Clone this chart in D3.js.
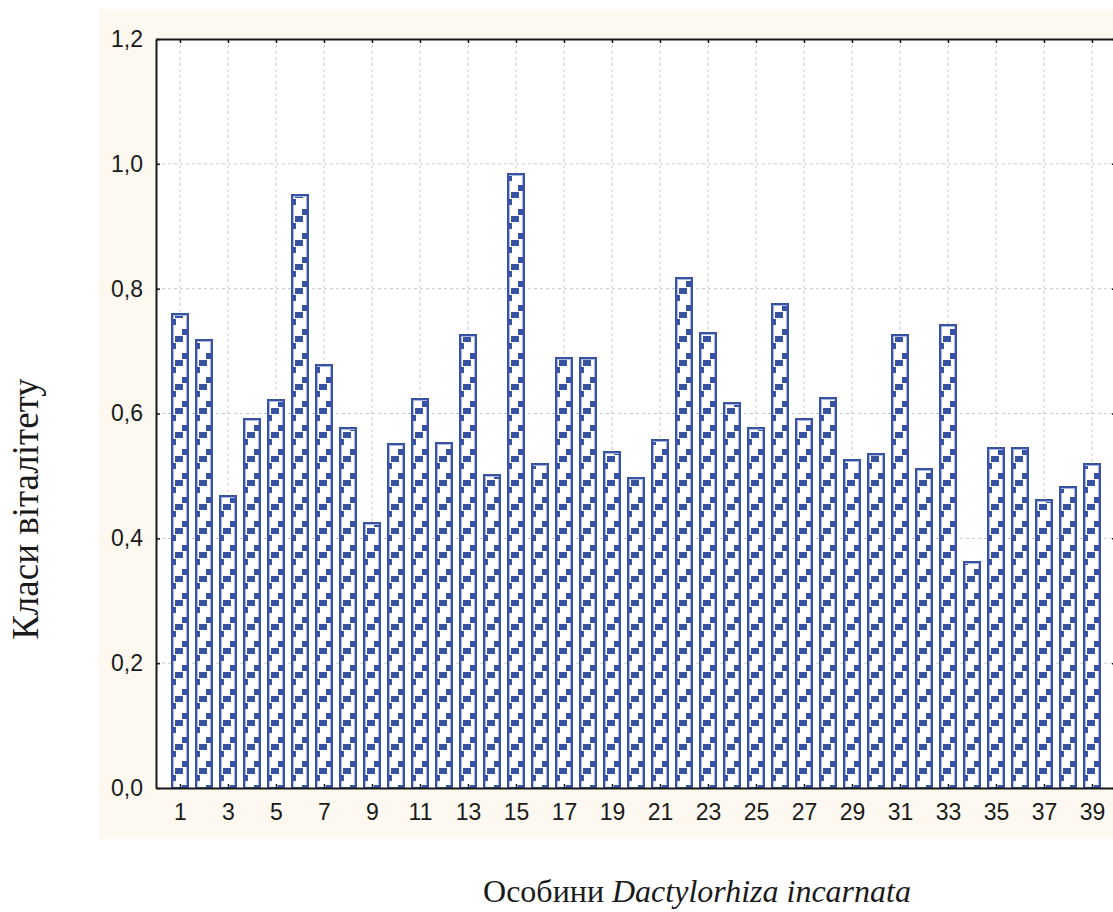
<!DOCTYPE html>
<html>
<head>
<meta charset="utf-8">
<script src="https://cdn.jsdelivr.net/npm/d3@7"></script>
<style>
  body { margin: 0; background: #ffffff; }
  svg { display: block; }
</style>
</head>
<body>
<div id="chart"></div>
<script>
// individuals 1..39 and their vitality index
const individuals = d3.range(1, 40);
const vitality = [
  0.761, 0.720, 0.470, 0.592, 0.624, 0.951, 0.680, 0.578, 0.426, 0.553,
  0.625, 0.555, 0.728, 0.503, 0.985, 0.521, 0.691, 0.691, 0.540, 0.499,
  0.559, 0.818, 0.730, 0.619, 0.578, 0.777, 0.592, 0.627, 0.527, 0.536,
  0.727, 0.512, 0.744, 0.363, 0.546, 0.546, 0.463, 0.484, 0.521
];
const yTicks = [0, 0.2, 0.4, 0.6, 0.8, 1.0, 1.2];
const xTicks = d3.range(1, 40, 2);

const W = 1113, H = 912;
const plotL = 156, plotR = 1116, plotT = 39, plotB = 788;
const blue = '#3953a4', lightBlue = '#a9b6df';

const svg = d3.select('#chart').append('svg')
  .attr('width', W)
  .attr('height', H);

// cream panel behind the plot
svg.append('rect')
  .attr('x', 99).attr('y', 9)
  .attr('width', W - 99).attr('height', 830)
  .attr('fill', '#fdf9f1');

const x = d3.scaleLinear().domain([0, 40]).range([plotL, plotR]);
const y = d3.scaleLinear().domain([0, 1.2]).range([plotB, plotT]);

const step = x(2) - x(1);
const bw = 18;

svg.append('rect')
  .attr('x', plotL).attr('y', plotT)
  .attr('width', plotR - plotL).attr('height', plotB - plotT)
  .attr('fill', '#fff');

// hatch pattern: one tile per bar slot so every bar gets the same staircase
const defs = svg.append('defs');
const pat = defs.append('pattern')
  .attr('id', 'hatch')
  .attr('patternUnits', 'userSpaceOnUse')
  .attr('x', x(1) - bw / 2)
  .attr('y', 0)
  .attr('width', step)
  .attr('height', 24)
  .attr('shape-rendering', 'crispEdges');
pat.append('rect').attr('x', 4).attr('y', 0).attr('width', 8).attr('height', 6).attr('fill', blue);
pat.append('rect').attr('x', 0).attr('y', 7).attr('width', 5).attr('height', 6).attr('fill', blue);
pat.append('rect').attr('x', 11).attr('y', 17).attr('width', 7).attr('height', 6).attr('fill', blue);

// grid
const grid = svg.append('g').attr('stroke', '#c8c8c8').attr('stroke-dasharray', '3,3').attr('stroke-width', 1);
grid.selectAll('line.v').data(xTicks).join('line')
  .attr('x1', d => x(d)).attr('x2', d => x(d))
  .attr('y1', plotT).attr('y2', plotB);
grid.selectAll('line.h').data(yTicks.slice(1, -1)).join('line')
  .attr('x1', plotL).attr('x2', plotR)
  .attr('y1', d => y(d)).attr('y2', d => y(d));

// bars
const bars = svg.append('g').attr('shape-rendering', 'crispEdges')
  .selectAll('g').data(vitality).join('g');
bars.append('rect')
  .attr('x', (d, i) => x(individuals[i]) - bw / 2)
  .attr('y', d => y(d))
  .attr('width', bw)
  .attr('height', d => y(0) - y(d))
  .attr('fill', '#fff');
bars.append('rect')
  .attr('x', (d, i) => x(individuals[i]) - bw / 2 + 2.5)
  .attr('y', d => y(d) + 2.5)
  .attr('width', bw - 5)
  .attr('height', d => y(0) - y(d) - 2.5)
  .attr('fill', 'none')
  .attr('stroke', lightBlue)
  .attr('stroke-width', 1);
bars.append('rect')
  .attr('x', (d, i) => x(individuals[i]) - bw / 2)
  .attr('y', d => y(d) + 3)
  .attr('width', bw)
  .attr('height', d => y(0) - y(d) - 3)
  .attr('fill', 'url(#hatch)');
bars.append('rect')
  .attr('x', (d, i) => x(individuals[i]) - bw / 2 + 1)
  .attr('y', d => y(d) + 1)
  .attr('width', bw - 2)
  .attr('height', d => y(0) - y(d) - 1)
  .attr('fill', 'none')
  .attr('stroke', blue)
  .attr('stroke-width', 2);

// axes
const fmt = d => d.toFixed(1).replace('.', ',');
const font = '"Liberation Sans", Arial, sans-serif';

const yAxis = svg.append('g')
  .attr('transform', `translate(${plotL},0)`)
  .call(d3.axisLeft(y).tickValues(yTicks).tickFormat(fmt).tickSizeInner(-4).tickSizeOuter(0).tickPadding(13));
const yAxisR = svg.append('g')
  .attr('transform', `translate(${plotR},0)`)
  .call(d3.axisRight(y).tickValues(yTicks).tickFormat('').tickSizeInner(-4).tickSizeOuter(0));
const xAxis = svg.append('g')
  .attr('transform', `translate(0,${plotB})`)
  .call(d3.axisBottom(x).tickValues(xTicks).tickFormat(d3.format('d')).tickSizeInner(-4).tickSizeOuter(0).tickPadding(16));
const xAxisT = svg.append('g')
  .attr('transform', `translate(0,${plotT})`)
  .call(d3.axisTop(x).tickValues(xTicks).tickFormat('').tickSizeInner(-4).tickSizeOuter(0));

[yAxis, yAxisR, xAxis, xAxisT].forEach(g => {
  g.select('.domain').attr('stroke', '#1a1a1a').attr('stroke-width', 2);
  g.selectAll('.tick line').attr('stroke', '#1a1a1a').attr('stroke-width', 1.5);
  g.selectAll('text').attr('font-family', font).attr('font-size', 23).attr('fill', '#1a1a1a');
});

// axis titles
svg.append('text')
  .attr('transform', 'translate(38,509) rotate(-90)')
  .attr('text-anchor', 'middle')
  .attr('font-family', '"Liberation Serif", "Times New Roman", serif')
  .attr('font-size', 37)
  .attr('fill', '#1a1a1a')
  .text('Класи віталітету');

const xt = svg.append('text')
  .attr('x', 697).attr('y', 902)
  .attr('text-anchor', 'middle')
  .attr('font-family', '"Liberation Serif", "Times New Roman", serif')
  .attr('font-size', 32)
  .attr('fill', '#1a1a1a');
xt.append('tspan').text('Особини ');
xt.append('tspan').attr('font-style', 'italic').text('Dactylorhiza incarnata');
</script>
</body>
</html>
